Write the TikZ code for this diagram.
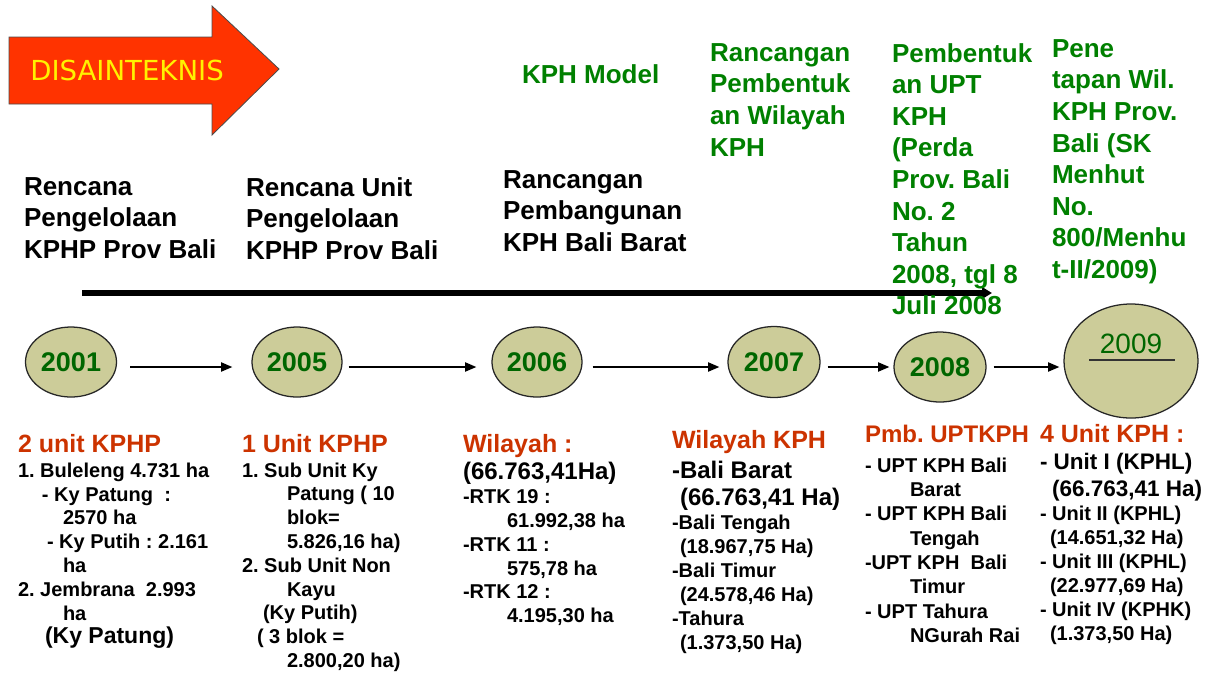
\documentclass[tikz,border=0pt]{standalone}
\usepackage{fontspec}
\setmainfont{Liberation Sans}
\newfontfamily\djv{DejaVu Sans}
\usetikzlibrary{arrows.meta,shapes.geometric,calc}
\newlength\pxu \setlength\pxu{0.025cm}
\newcommand\fs[2]{\fontsize{#1}{#2}\selectfont}
\newcommand\ind[1]{\hspace*{#1\pxu}}
\definecolor{redarr}{RGB}{255,51,0}
\definecolor{hdrred}{RGB}{204,51,0}
\definecolor{grn}{RGB}{0,128,0}
\definecolor{yrgrn}{RGB}{0,102,0}
\definecolor{khaki}{RGB}{204,204,153}
\frenchspacing
\begin{document}
\begin{tikzpicture}[x=0.025cm,y=-0.025cm,
  topblk/.style={anchor=north west,inner sep=0pt,outer sep=0pt,align=left,font=\bfseries\fs{18.5}{22.45}},
  grntxt/.style={topblk,text=grn},
  hdr/.style={anchor=base west,inner sep=0pt,outer sep=0pt,text=hdrred,font=\bfseries\fs{17.78}{20}},
  body/.style={anchor=north west,inner sep=0pt,outer sep=0pt,align=left,font=\bfseries\fs{14.23}{#1}},
  ell/.style={ellipse,draw=black!85,line width=0.9pt,fill=khaki,inner sep=0pt},
  yr/.style={text=yrgrn,font=\bfseries\fs{19.2}{22}},
  conn/.style={line width=1.1pt,-{Triangle[length=8pt,width=6.5pt]}},
  bigarr/.style={line width=3.6pt,-{Triangle[length=7pt,width=8pt]}}
]
\useasboundingbox (0,0) rectangle (1221,673);

% red block arrow
\path[draw=black!70,line width=0.6pt,fill=redarr]
  (9,37) -- (212,37) -- (212,6) -- (279,69) -- (212,135) -- (212,104) -- (9,104) -- cycle;
\node[anchor=base west,inner sep=0pt,text=yellow,font=\djv\fs{19.6}{22}] (dis) at (30,80) {DISAINTEKNIS};

% big timeline arrow
\coordinate (tl0) at (82,293);
\coordinate (tl1) at (992,293);
\draw[bigarr] (tl0) -- (tl1);

% top black texts
\node[topblk] (tb1) at (24,177.4) {Rencana\\Pengelolaan\\KPHP Prov Bali};
\node[topblk] (tb2) at (246,177.4) {Rencana Unit\\Pengelolaan\\KPHP Prov Bali};
\node[topblk] (tb3) at (503,170.4) {Rancangan\\Pembangunan\\KPH Bali Barat};

% green texts
\node[grntxt] (g1) at (522,64.4) {KPH Model};
\node[grntxt] (g2) at (710,43.4) {Rancangan\\Pembentuk\\an Wilayah\\KPH};
\node[grntxt] (g3) at (892,43.4) {Pembentuk\\an UPT\\KPH\\(Perda\\Prov. Bali\\No. 2\\Tahun\\2008, tgl 8\\Juli 2008};
\node[grntxt] (g4) at (1052,39.4) {Pene\\tapan Wil.\\KPH Prov.\\Bali (SK\\Menhut\\No.\\800/Menhu\\t-II/2009)};

% ellipses
\node[ell,yr,minimum width=2.275cm,minimum height=1.75cm] (e2001) at (71,362) {2001};
\node[ell,yr,minimum width=2.25cm,minimum height=1.75cm] (e2005) at (297,362) {2005};
\node[ell,yr,minimum width=2.25cm,minimum height=1.75cm] (e2006) at (537,362) {2006};
\node[ell,yr,minimum width=2.3cm,minimum height=1.775cm] (e2007) at (774,362) {2007};
\node[ell,yr,minimum width=2.3cm,minimum height=1.75cm] (e2008) at (940,367) {2008};
\node[ell,minimum width=3.35cm,minimum height=2.85cm] (e2009) at (1131,361) {};
\node[anchor=base,inner sep=0pt,text=yrgrn,font=\fs{19.9}{22}] (t2009) at ($(e2009.center)+(0,-8)$) {2009};
\coordinate (u0) at ($(e2009.center)+(-42,-1)$);
\coordinate (u1) at ($(e2009.center)+(44,-1)$);
\draw[line width=1pt,black!80] (u0) -- (u1);

% connectors
\draw[conn] ($(e2001.east)+(13,5)$) -- ($(e2005.west)+(-19,5)$);
\draw[conn] ($(e2005.east)+(6,5)$) -- ($(e2006.west)+(-15,5)$);
\draw[conn] ($(e2006.east)+(10,5)$) -- ($(e2007.west)+(-8,5)$);
\draw[conn] ($(e2007.east)+(7,5)$) -- ($(e2008.west)+(-4,0)$);
\draw[conn] ($(e2008.east)+(7,0)$) -- ($(e2009.west)+(-4,6)$);

% red headers
\node[hdr] (h1) at (18,452) {2 unit KPHP};
\node[hdr] (h2) at (242,452) {1 Unit KPHP};
\node[hdr] (h3) at (463,452) {Wilayah :};
\node[hdr] (h4) at (672,448) {Wilayah KPH};
\node[hdr,font=\bfseries\fs{17.07}{20}] (h5) at (865,442) {Pmb. UPTKPH};
\node[hdr] (h6) at (1040,442) {4 Unit KPH :};

% body columns
\node[body=16.93pt] (b1) at (18,462.7) {1. Buleleng 4.731 ha\\
\ind{24}- Ky Patung \ :\\
\ind{45}2570 ha\\
\ind{29}- Ky Putih : 2.161\\
\ind{45}ha\\
2. Jembrana \ 2.993\\
\ind{45}ha\\
\ind{27}{\fs{16.36}{16.93}(Ky Patung)}};

\node[body=16.9pt] (b2) at (242,462.7) {1. Sub Unit Ky\\
\ind{45}Patung ( 10\\
\ind{45}blok=\\
\ind{45}5.826,16 ha)\\
2. Sub Unit Non\\
\ind{45}Kayu\\
\ind{21}(Ky Putih)\\
\ind{15}( 3 blok =\\
\ind{45}2.800,20 ha)};

\node[body=16.93pt] (b3) at (463,462.5) {{\fs{17.07}{16.93}(66.763,41Ha)}\\
-RTK 19 :\\
\ind{44}61.992,38 ha\\
-RTK 11 :\\
\ind{44}575,78 ha\\
-RTK 12 :\\
\ind{44}4.195,30 ha};

\node[body=17.07pt] (b4) at (672,460.8) {{\fs{17.07}{17.07}-Bali Barat}\\[3\pxu]
\ind{8}{\fs{17.07}{17.07}(66.763,41 Ha)}\\
-Bali Tengah\\
\ind{8}(18.967,75 Ha)\\
-Bali Timur\\
\ind{8}(24.578,46 Ha)\\
-Tahura\\
\ind{8}(1.373,50 Ha)};

\node[body=17.28pt] (b5) at (865,457.7) {- UPT KPH Bali\\
\ind{45}Barat\\
- UPT KPH Bali\\
\ind{45}Tengah\\
-UPT KPH \ Bali\\
\ind{45}Timur\\
- UPT Tahura\\
\ind{45}NGurah Rai};

\node[body=17.07pt] (b6) at (1040,453.6) {{\fs{16}{17.07}- Unit I (KPHL)}\\[3\pxu]
\ind{12}{\fs{16}{17.07}(66.763,41 Ha)}\\
- Unit II (KPHL)\\
\ind{10}(14.651,32 Ha)\\
- Unit III (KPHL)\\
\ind{10}(22.977,69 Ha)\\
- Unit IV (KPHK)\\
\ind{10}(1.373,50 Ha)};
\end{tikzpicture}
\end{document}
